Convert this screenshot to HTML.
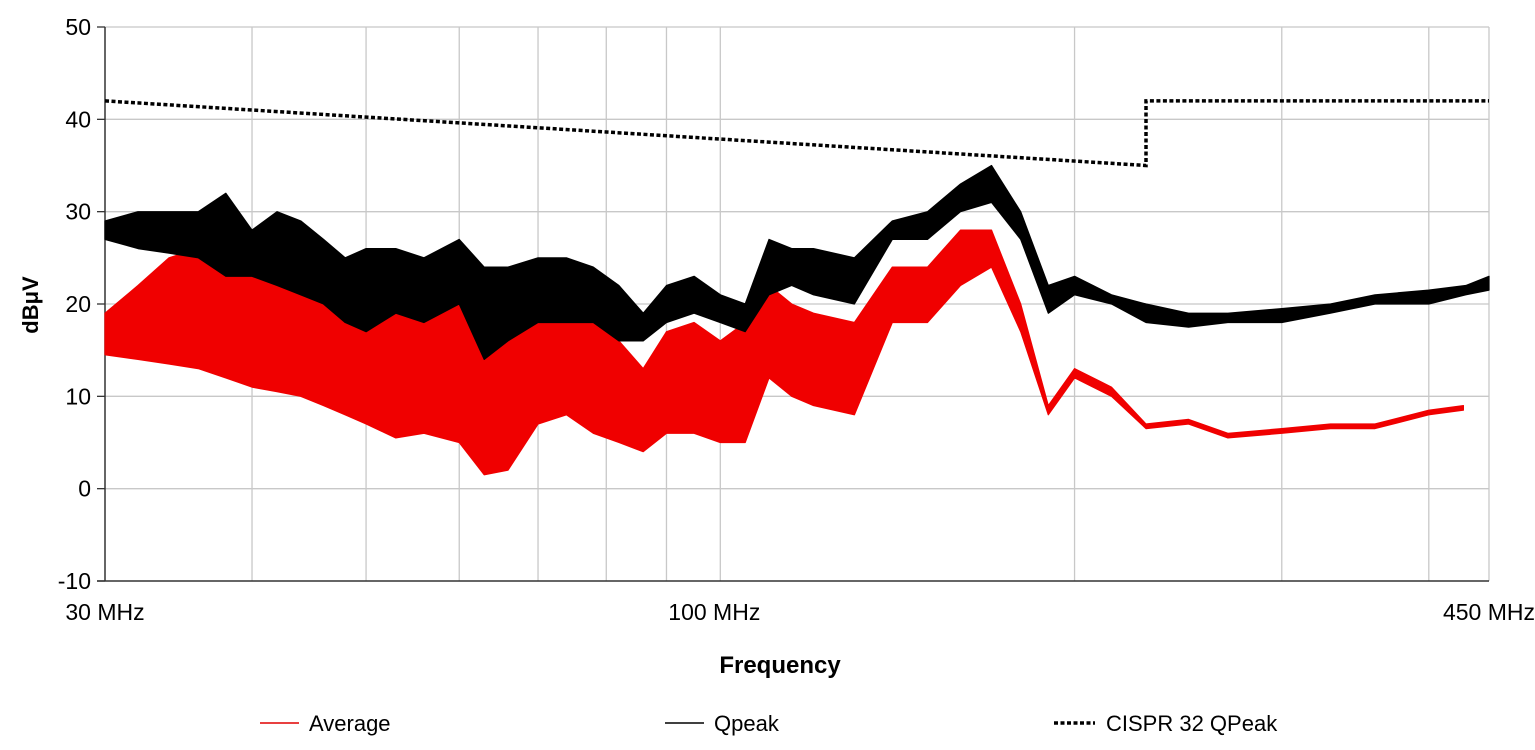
<!DOCTYPE html>
<html><head><meta charset="utf-8">
<style>
html,body{margin:0;padding:0;background:#fff;}
svg{display:block;}
text{font-family:"Liberation Sans",sans-serif;fill:#000;}
</style></head>
<body>
<svg id="chart" width="1535" height="750" viewBox="0 0 1535 750" xmlns="http://www.w3.org/2000/svg">
<g id="grid"></g>
<g id="ticks"></g>
<g id="series"></g>
<text x="0" y="0" transform="translate(38,305) rotate(-90)" text-anchor="middle" font-size="22" font-weight="bold">dBμV</text>
<text x="780" y="673" text-anchor="middle" font-size="24" font-weight="bold">Frequency</text>
<g>
  <g>
    <line x1="260" y1="723" x2="299" y2="723" stroke="#e00000" stroke-width="1.5"/>
    <text x="309" y="731" font-size="22">Average</text>
  </g>
  <g>
    <line x1="665" y1="723" x2="704" y2="723" stroke="#000" stroke-width="1.5"/>
    <text x="714" y="731" font-size="22">Qpeak</text>
  </g>
  <g>
    <line x1="1054" y1="723" x2="1095" y2="723" stroke="#000" stroke-width="3.5" stroke-dasharray="4,2.5"/>
    <text x="1106" y="731" font-size="22">CISPR 32 QPeak</text>
  </g>
</g>
</svg>
<script>
const freqs = [30,32,34,36,38,40,42,44,46,48,50,53,56,60,63,66,70,74,78,82,86,90,95,100,105,110,115,120,130,140,150,160,170,180,190,200,215,230,250,270,300,330,360,400,430,450];
const qpHigh = [29,30,30,30,32,28,30,29,27,25,26,26,25,27,24,24,25,25,24,22,19,22,23,21,20,27,26,26,25,29,30,33,35,30,22,23,21,20,19,19,19.5,20,21,21.5,22,23];
const qpLow  = [27,26,25.5,25,23,23,22,21,20,18,17,19,18,20,14,16,18,18,18,16,16,18,19,18,17,21,22,21,20,27,27,30,31,27,19,21,20,18,17.5,18,18,19,20,20,21,21.5];
const avgFreqs = [30,32,34,36,38,40,42,44,46,48,50,53,56,60,63,66,70,74,78,82,86,90,95,100,105,110,115,120,130,140,150,160,170,180,190,200,215,230,250,270,300,330,360,400,428];
const avgHigh = [19,22,25,26,28,27,25,24,22,20,20,19,21,23,18,16,20,18,18,16,13,17,18,16,18,22,20,19,18,24,24,28,28,20,9,13,11,7,7.5,6,6.5,7,7,8.5,9];
const avgLow  = [14.5,14,13.5,13,12,11,10.5,10,9,8,7,5.5,6,5,1.5,2,7,8,6,5,4,6,6,5,5,12,10,9,8,18,18,22,24,17,8,12,10,6.5,7,5.5,6,6.5,6.5,8,8.5];
const limitFreqs = [30,230,230,450];
const limitVals = [42,35,42,42];
const yTicks = [50,40,30,20,10,0,-10];
const xGrid = [40,50,60,70,80,90,100,200,300,400];
const xLabels = ["30 MHz","100 MHz","450 MHz"];
const xLabelFreqs = [30,100,450];

const NS="http://www.w3.org/2000/svg";
const X0=105, X1=1489, Y0=27, Y1=581, FMIN=30, FMAX=450, VMIN=-10, VMAX=50;
function xs(f){return X0+(Math.log(f/FMIN)/Math.log(FMAX/FMIN))*(X1-X0);}
function ys(v){return Y1-(v-VMIN)/(VMAX-VMIN)*(Y1-Y0);}
function mk(tag,attrs,parent){const e=document.createElementNS(NS,tag);for(const k in attrs)e.setAttribute(k,attrs[k]);parent.appendChild(e);return e;}
const grid=document.getElementById('grid'), ticks=document.getElementById('ticks'), series=document.getElementById('series');

yTicks.forEach(v=>{
  if(v!==VMIN){
    const l=mk('line',{x1:X0,x2:X1,y1:ys(v),y2:ys(v),stroke:'#c8c8c8','stroke-width':1.3},grid);
    
    
  }
  const t=mk('line',{x1:X0-8,x2:X0,y1:ys(v),y2:ys(v),stroke:'#333','stroke-width':1.3},ticks);
  
  
  const tx=mk('text',{x:X0-14,y:ys(v)+8,'text-anchor':'end','font-size':23},ticks);
  tx.textContent=v;
  
  
});
xGrid.forEach(f=>{
  const l=mk('line',{x1:xs(f),x2:xs(f),y1:Y0,y2:Y1,stroke:'#c8c8c8','stroke-width':1.3},grid);
  
  
});
const rl=mk('line',{x1:X1,x2:X1,y1:Y0,y2:Y1,stroke:'#c8c8c8','stroke-width':1.3},grid);


xLabels.forEach((s,i)=>{
  const t=mk('text',{x:xs(xLabelFreqs[i])+(i===1?-6:0),y:620,'text-anchor':'middle','font-size':23},ticks);
  t.textContent=s;
  
  
});

function bandPath(fr,hi,lo){
  let d='';
  for(let i=0;i<fr.length;i++) d+=(i?'L':'M')+xs(fr[i]).toFixed(1)+','+ys(hi[i]).toFixed(1);
  for(let i=fr.length-1;i>=0;i--) d+='L'+xs(fr[i]).toFixed(1)+','+ys(lo[i]).toFixed(1);
  return d+'Z';
}

const avgG=mk('g',{},series);


mk('path',{d:bandPath(avgFreqs,avgHigh,avgLow),fill:'#f00000',stroke:'#f00000','stroke-width':1.2,'stroke-linejoin':'round'},avgG);

const qpG=mk('g',{},series);


mk('path',{d:bandPath(freqs,qpHigh,qpLow),fill:'#000',stroke:'#000','stroke-width':1.2,'stroke-linejoin':'round'},qpG);

let dl='';
limitFreqs.forEach((f,i)=>{dl+=(i?'L':'M')+xs(f).toFixed(1)+','+ys(limitVals[i]).toFixed(1);});
const lim=mk('path',{d:dl,stroke:'#000','stroke-width':3.5,'stroke-dasharray':'4,2.5',fill:'none'},series);



const ya=mk('line',{x1:X0,x2:X0,y1:Y0,y2:Y1,stroke:'#333','stroke-width':1.5},ticks);


const xaL=mk('line',{x1:X0-8,x2:X1,y1:Y1,y2:Y1,stroke:'#333','stroke-width':1.5},ticks);


</script>
</body></html>
